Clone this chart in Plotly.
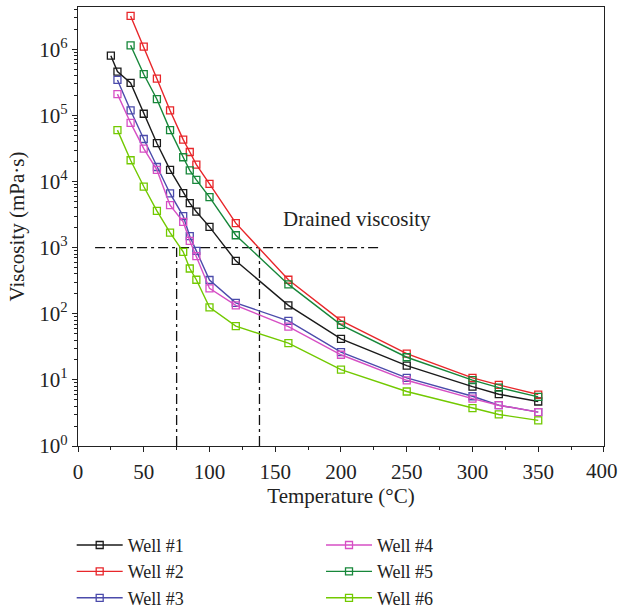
import plotly.graph_objects as go

# temperatures (°C)
temp_common = [40, 50, 60, 70, 80, 85, 90, 100, 120, 160, 200, 250, 300, 320, 350]
temp_w1 = [25, 30] + temp_common
temp_w2 = temp_common
temp_w3 = [30] + temp_common
temp_w4 = [30] + temp_common
temp_w5 = temp_common
temp_w6 = [30] + temp_common

# viscosity (mPa·s)
visc_w1 = [8.0e5, 4.6e5, 3.1e5, 1.06e5, 3.8e4, 1.5e4, 6.7e3, 4.7e3, 3.5e3, 2.06e3,
           632, 134, 41.8, 16.4, 7.9, 6.07, 4.71]
visc_w2 = [3.2e6, 1.1e6, 3.6e5, 1.19e5, 4.3e4, 2.8e4, 1.8e4, 9.2e3, 2.35e3,
           327, 79, 24.9, 10.7, 8.4, 6.0]
visc_w3 = [3.44e5, 1.19e5, 4.4e4, 1.66e4, 6.6e3, 3.0e3, 1.49e3, 895, 324,
           146, 78, 26.3, 10.7, 5.66, 4.14, 3.25]
visc_w4 = [2.1e5, 7.7e4, 3.15e4, 1.5e4, 4.4e3, 2.45e3, 1.27e3, 745, 242,
           134, 64, 24, 9.86, 5.2, 4.14, 3.25]
visc_w5 = [1.15e6, 4.2e5, 1.76e5, 6.0e4, 2.33e4, 1.48e4, 1.06e4, 5.8e3, 1.54e3,
           278, 68, 22, 9.9, 7.65, 5.53]
visc_w6 = [6.0e4, 2.1e4, 8.4e3, 3.6e3, 1.69e3, 865, 484, 327, 125,
           65, 36, 14.3, 6.67, 3.73, 3.0, 2.44]

names = ["Well #1", "Well #2", "Well #3", "Well #4", "Well #5", "Well #6"]
colors = ["#1a1a1a", "#e8262a", "#4b4bab", "#d64fc4", "#17873a", "#72c900"]

# tick labels
x_tickvals = [0, 50, 100, 150, 200, 250, 300, 350, 400]
y_tickvals = [1, 10, 100, 1e3, 1e4, 1e5, 1e6]
y_ticktext = ["10<sup>%d</sup>" % k for k in range(7)]

# drained viscosity guide lines
drain_visc = 1000
drain_x = [13, 230]
drain_temps = [75, 138]

FONT = "Liberation Serif"

series = [
    (temp_w1, visc_w1), (temp_w2, visc_w2), (temp_w3, visc_w3),
    (temp_w4, visc_w4), (temp_w5, visc_w5), (temp_w6, visc_w6),
]

fig = go.Figure()

# guide lines (drawn first, underneath the data)
dash = "10px,4px,3px,4px"
fig.add_trace(go.Scatter(
    x=drain_x, y=[drain_visc, drain_visc], mode="lines",
    line=dict(color="#111111", width=1.3, dash=dash),
    showlegend=False, hoverinfo="skip"
))
for t in drain_temps:
    fig.add_trace(go.Scatter(
        x=[t, t], y=[1, drain_visc], mode="lines",
        line=dict(color="#111111", width=1.3, dash=dash),
        showlegend=False, hoverinfo="skip"
    ))

for i, ((tx, vy), name, col) in enumerate(zip(series, names, colors)):
    fig.add_trace(go.Scatter(
        x=tx, y=vy, mode="lines+markers", name=name,
        line=dict(color=col, width=1.4),
        marker=dict(symbol="square-open", size=7, color=col, line=dict(width=1.3)),
        legend="legend" if i < 3 else "legend2",
    ))

fig.add_annotation(
    x=212, y=3.43, xref="x", yref="y", text="Drained viscosity",
    showarrow=False, font=dict(family=FONT, size=21, color="#222222")
)

# last x tick label sits past the plot edge, so plotly drops it; draw it as text
fig.add_annotation(
    x=x_tickvals[-1], y=0, xref="x", yref="paper", text=str(x_tickvals[-1]),
    showarrow=False, yanchor="top", yshift=-11, xshift=-2,
    font=dict(family=FONT, size=21, color="#222222")
)

axis_common = dict(
    showline=True, linecolor="#222222", linewidth=1.3, mirror=True,
    showgrid=False, zeroline=False, ticks="outside", ticklen=5,
    tickwidth=1.2, tickcolor="#222222",
    tickfont=dict(family=FONT, size=21, color="#222222"),
)

legend_common = dict(
    yanchor="top", xanchor="left",
    font=dict(family=FONT, size=18, color="#222222"),
    bgcolor="rgba(0,0,0,0)", tracegroupgap=0, itemwidth=46,
)

fig.update_layout(
    width=618, height=608,
    margin=dict(l=78, r=14, t=7, b=162, autoexpand=False),
    plot_bgcolor="white", paper_bgcolor="white",
    font=dict(family=FONT, color="#222222"),
    xaxis=dict(
        range=[0, 400.01], tickvals=x_tickvals,
        ticklabelstandoff=2,
        minor=dict(ticks="outside", ticklen=3, dtick=25, tickcolor="#222222"),
        title=dict(text="Temperature (°C)", font=dict(family=FONT, size=21), standoff=4),
        **axis_common
    ),
    yaxis=dict(
        type="log", range=[0, 6.64], tickvals=y_tickvals, ticktext=y_ticktext,
        minor=dict(ticks="outside", ticklen=3, dtick="D1", tickcolor="#222222"),
        title=dict(text="Viscosity (mPa·s)", font=dict(family=FONT, size=21), standoff=8),
        **axis_common
    ),
    legend=dict(x=-0.012, y=-0.184, **legend_common),
    legend2=dict(x=0.462, y=-0.184, **legend_common),
)

# drop the browser's default body margin so the figure sits at the window corner
fig.write_html("out.html", config={"displayModeBar": False},
               post_script="document.body.style.margin='0';")
